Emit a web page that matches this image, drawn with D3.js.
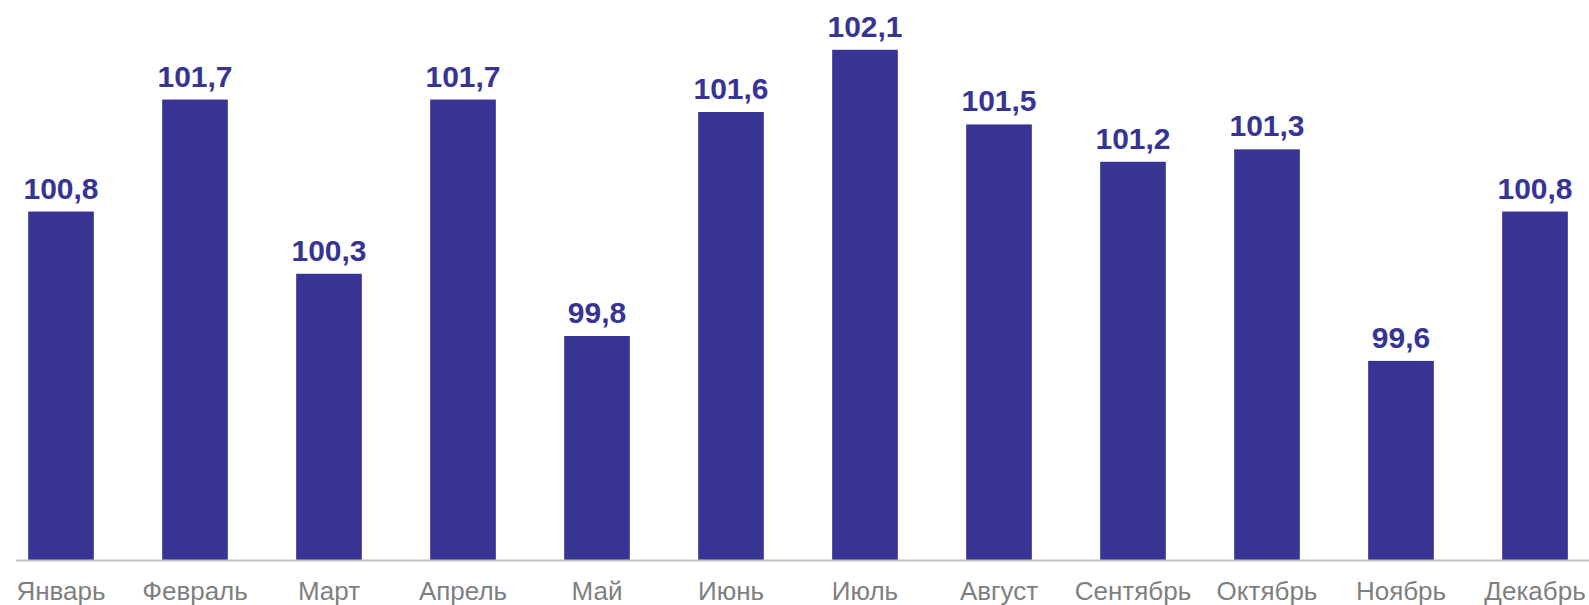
<!DOCTYPE html>
<html lang="ru">
<head>
    <meta charset="UTF-8">
    <title>Индексы по месяцам</title>
    <script src="https://d3js.org/d3.v7.min.js"></script>
    <style>
        body { margin: 0; background: #fff; }
        svg { display: block; }
    </style>
</head>
<body>
    <script>
        const months = ["Январь", "Февраль", "Март", "Апрель", "Май", "Июнь",
            "Июль", "Август", "Сентябрь", "Октябрь", "Ноябрь", "Декабрь"];
        const values = [100.8, 101.7, 100.3, 101.7, 99.8, 101.6,
            102.1, 101.5, 101.2, 101.3, 99.6, 100.8];

        const width = 1589;
        const height = 605;
        const baseY = 560;
        const barColor = "#373494";

        const data = months.map((m, i) => ({month: m, value: values[i]}));

        const x = d3.scaleBand()
            .domain(months)
            .range([-6, 1602])
            .paddingInner(0.51)
            .paddingOuter(0.255);

        const y = d3.scaleLinear()
            .domain([98, 102.5])
            .range([baseY, 0]);

        const svg = d3.select("body").append("svg")
            .attr("width", width)
            .attr("height", height);

        svg.append("g")
            .selectAll("rect")
            .data(data)
            .join("rect")
            .attr("x", d => x(d.month))
            .attr("y", d => y(d.value))
            .attr("width", x.bandwidth())
            .attr("height", d => baseY - y(d.value))
            .attr("fill", barColor);

        svg.append("g")
            .selectAll("text")
            .data(data)
            .join("text")
            .attr("x", d => x(d.month) + x.bandwidth() / 2)
            .attr("y", d => y(d.value) - 13)
            .attr("text-anchor", "middle")
            .attr("font-family", "'Liberation Sans', Arial, sans-serif")
            .attr("font-weight", "bold")
            .attr("font-size", 30)
            .attr("fill", barColor)
            .text(d => d.value.toFixed(1).replace(".", ","));

        // ось X
        const xAxis = svg.append("g")
            .attr("transform", `translate(0,${baseY + 0.5})`)
            .call(d3.axisBottom(x).tickSize(0).tickPadding(0));

        xAxis.select(".domain").remove();
        xAxis.append("line")
            .attr("x1", 16)
            .attr("x2", width)
            .attr("stroke", "#bfbfbf")
            .attr("stroke-width", 2);

        xAxis.selectAll(".tick text")
            .attr("y", 39.5)
            .attr("dy", null)
            .attr("font-family", "'Liberation Sans', Arial, sans-serif")
            .attr("font-size", 26)
            .attr("fill", "#7f7f7f");
    </script>
</body>
</html>
